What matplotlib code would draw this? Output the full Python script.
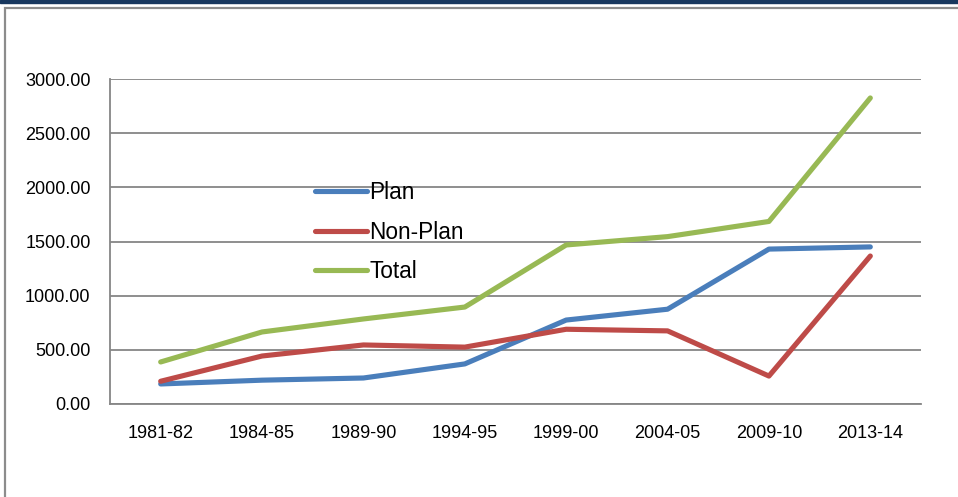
import matplotlib.pyplot as plt
from matplotlib.patches import Rectangle
from matplotlib.ticker import FormatStrFormatter

plt.rcParams["font.family"] = ["Liberation Sans", "DejaVu Sans"]

years = ["1981-82", "1984-85", "1989-90", "1994-95", "1999-00", "2004-05", "2009-10", "2013-14"]
plan = [185, 220, 240, 370, 775, 875, 1430, 1450]
non_plan = [210, 443, 545, 525, 690, 675, 258, 1366]
total = [388, 665, 785, 895, 1468, 1545, 1685, 2825]

W, H = 958, 497
fig = plt.figure(figsize=(W / 100, H / 100), dpi=100)

# top bar and outer frame of the chart object
fig.patches.append(Rectangle((0, 1 - 3 / H), 1, 3 / H, transform=fig.transFigure,
                             color="#17375E", zorder=0))
fig.patches.append(Rectangle((5 / W, -0.1), 1.1, 1.1 - 8 / H, transform=fig.transFigure,
                             fill=False, ec="#8c8c8c", lw=1.6, zorder=0))

ax = fig.add_axes([110 / W, 1 - 404 / H, 811 / W, 325 / H])
x = range(len(years))
ax.plot(x, plan, color="#4A7EBB", lw=3.7, label="Plan", solid_capstyle="round")
ax.plot(x, non_plan, color="#BE4B48", lw=3.7, label="Non-Plan", solid_capstyle="round")
ax.plot(x, total, color="#98B954", lw=3.7, label="Total", solid_capstyle="round")

ax.set_xlim(-0.5, len(years) - 0.5)
ax.set_ylim(0, 3000)
ax.set_yticks(range(0, 3001, 500))
ax.yaxis.set_major_formatter(FormatStrFormatter("%.2f"))
ax.set_xticks(list(x))
ax.set_xticklabels(years)
ax.tick_params(length=0, labelsize=13)
ax.tick_params(axis="y", pad=14)
ax.tick_params(axis="x", pad=15)
ax.grid(axis="y", color="#868686", lw=1.3)
ax.set_axisbelow(True)
for s in ["top", "right"]:
    ax.spines[s].set_visible(False)
for s in ["left", "bottom"]:
    ax.spines[s].set_color("#868686")
    ax.spines[s].set_linewidth(1.3)

ax.legend(loc="upper left", bbox_to_anchor=(315 / W, 1 - 181 / H),
          bbox_transform=fig.transFigure, frameon=False, fontsize=16.3,
          handlelength=2.3, handletextpad=0.1, labelspacing=0.73,
          borderpad=0, borderaxespad=0)

fig.savefig("out.png", dpi=100)
